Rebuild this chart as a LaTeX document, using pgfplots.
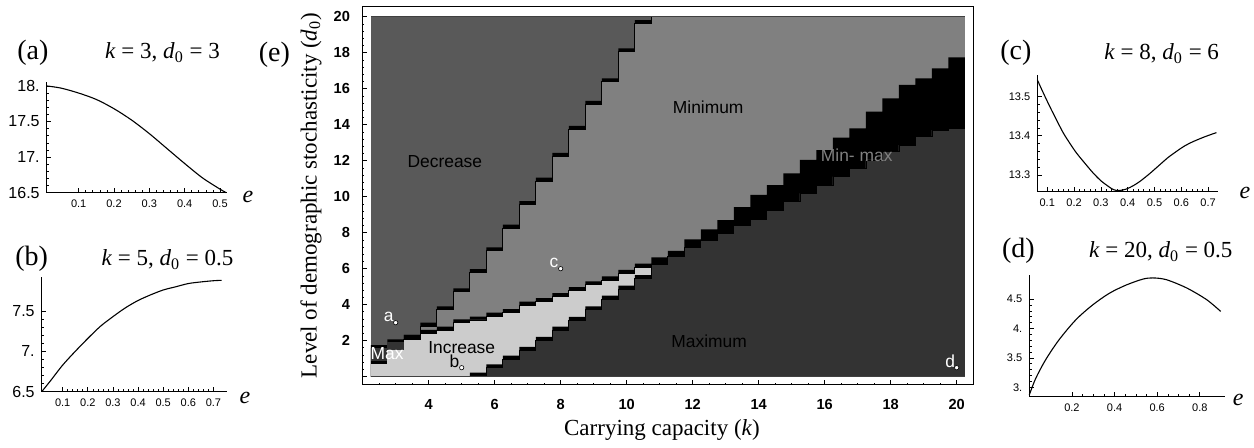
\documentclass[border=0pt]{standalone}
\usepackage{fontspec}
\setmainfont{Liberation Serif}
\setsansfont{Liberation Sans}
\usepackage{pgfplots}
\usepackage{pgfplotstable}
\pgfplotsset{compat=1.18}

\definecolor{decr}{gray}{0.35}
\definecolor{minim}{gray}{0.5}
\definecolor{maxim}{gray}{0.2}
\definecolor{incr}{gray}{0.8}

% Region map (e): one row per column of cells (left edge k, width 0.5).
% Each Lx is the top of a layer filled from d0 = 0; later layers paint over earlier ones.
% L1 black | L2 minimum | L3 black | L4 increase | L5 black | L6 maximum
\pgfplotstableread{
k     L1    L2    L3    L4    L5    L6
2.25  1.76  1.58  1.58  1.58  0     0
2.75  2.08  1.90  1.90  1.90  0     0
3.25  2.32  2.08  2.32  2.08  0     0
3.75  3.00  2.81  2.60  2.41  0     0
4.25  3.90  3.71  2.78  2.59  0     0
4.75  4.91  4.72  3.19  3.00  0     0
5.25  5.97  5.78  3.34  3.15  0.22  0.04
5.75  7.19  7.00  3.56  3.37  0.69  0.50
6.25  8.45  8.26  3.75  3.56  1.17  0.98
6.75  9.76  9.57  4.17  3.98  1.66  1.47
7.25  11.06 10.87 4.36  4.17  2.21  2.02
7.75  12.44 12.25 4.64  4.45  2.78  2.58
8.25  13.93 13.74 4.98  4.78  3.32  3.13
8.75  15.32 15.13 5.30  5.10  3.91  3.72
9.25  16.58 16.39 5.57  5.37  4.50  4.30
9.75  18.24 18.05 5.94  5.74  5.06  4.87
10.25 19.81 19.62 6.28  6.07  5.65  5.46
10.75 20    20    6.63  6.26  6.26  6.26
11.25 20    20    6.99  6.67  6.67  6.67
11.75 20    20    7.63  7.18  7.18  7.18
12.25 20    20    8.18  7.59  7.59  7.59
12.75 20    20    8.70  7.96  7.96  7.96
13.25 20    20    9.42  8.40  8.40  8.40
13.75 20    20    10.10 8.75  8.75  8.75
14.25 20    20    10.65 9.26  9.26  9.26
14.75 20    20    11.30 9.72  9.72  9.72
15.25 20    20    12.04 10.19 10.19 10.19
15.75 20    20    12.59 10.65 10.65 10.65
16.25 20    20    13.28 11.11 11.11 11.11
16.75 20    20    13.79 11.57 11.57 11.57
17.25 20    20    14.72 12.04 12.04 12.04
17.75 20    20    15.46 12.50 12.50 12.50
18.25 20    20    16.21 12.87 12.87 12.87
18.75 20    20    16.58 13.33 13.33 13.33
19.25 20    20    17.13 13.70 13.70 13.70
19.75 20    20    17.74 13.79 13.79 13.79
20.25 20    20    17.74 13.79 13.79 13.79
}\regions

% Profiles against e
\pgfplotstableread{
e     v
0.0094 18.00
0.05  17.97
0.10  17.90
0.15  17.81
0.20  17.68
0.25  17.52
0.30  17.33
0.35  17.12
0.40  16.91
0.45  16.71
0.50  16.55
0.518 16.50
}\curvea

\pgfplotstableread{
e     v
0.0163 6.50
0.05  6.63
0.10  6.83
0.15  7.00
0.20  7.16
0.25  7.31
0.30  7.43
0.35  7.54
0.40  7.63
0.45  7.70
0.50  7.76
0.55  7.80
0.60  7.84
0.65  7.86
0.70  7.875
0.733 7.88
}\curveb

\pgfplotstableread{
e     v
0.063 13.543
0.085 13.51
0.110 13.474
0.135 13.44
0.160 13.407
0.185 13.38
0.209 13.356
0.240 13.33
0.271 13.305
0.300 13.285
0.321 13.274
0.340 13.265
0.358 13.260
0.380 13.261
0.396 13.264
0.420 13.272
0.445 13.283
0.480 13.302
0.520 13.326
0.550 13.344
0.582 13.360
0.610 13.373
0.644 13.385
0.690 13.398
0.731 13.408
}\curvec

\pgfplotstableread{
e     v
0.000 2.87
0.030 3.15
0.077 3.47
0.140 3.81
0.219 4.15
0.297 4.40
0.376 4.60
0.455 4.74
0.533 4.84
0.580 4.86
0.643 4.83
0.738 4.69
0.832 4.49
0.898 4.29
}\curved

\pgfplotsset{
  panel/.style={
    scale only axis, anchor=south west,
    axis lines=left, axis line style={-, line width=0.45pt},
    tick align=inside, major tick length=2.2pt, minor tick length=1.1pt,
    tick style={line width=0.35pt, black},
    tick label style={font=\sffamily\fontsize{5.5}{6}\selectfont},
    clip=false,
  },
  curve/.style={black, line width=0.55pt, smooth},
  edge/.style={const plot, black, line width=0.45pt},
}

\newcommand{\regfont}{\sffamily\fontsize{8.7}{10}\selectfont}

\begin{document}
\begin{tikzpicture}
\useasboundingbox (0,0) rectangle (627pt,224pt);

% ---------- (e) region map ----------
\begin{axis}[
  at={(181pt,31.5pt)}, anchor=south west, scale only axis,
  width=305.5pt, height=189pt,
  xmin=1.979, xmax=20.494, ymin=-0.461, ymax=20.54,
  axis line style={line width=0.5pt},
  tick pos=left, tick align=inside,
  xtick={2,4,...,20}, ytick={0,2,...,20},
  xticklabels={,4,6,8,10,12,14,16,18,20},
  yticklabels={,2,4,6,8,10,12,14,16,18,20},
  minor x tick num=3, minor y tick num=4,
  major tick length=2.5pt, minor tick length=1.2pt,
  tick style={line width=0.4pt, black},
  tick label style={font=\sffamily\bfseries\fontsize{7.3}{8}\selectfont},
  xticklabel style={yshift=-3.5pt}, yticklabel style={xshift=-2.5pt},
]
\addplot[fill=decr, draw=none] coordinates {(2.25,0) (20.25,0) (20.25,20) (2.25,20)} -- cycle;
\addplot[const plot, fill=black, draw=none] table[x=k, y=L1] {\regions} \closedcycle;
\addplot[const plot, fill=minim, draw=none] table[x=k, y=L2] {\regions} \closedcycle;
\addplot[const plot, fill=black, draw=none] table[x=k, y=L3] {\regions} \closedcycle;
\addplot[const plot, fill=incr, draw=none] table[x=k, y=L4] {\regions} \closedcycle;
\addplot[const plot, fill=black, draw=none] table[x=k, y=L5] {\regions} \closedcycle;
\addplot[const plot, fill=maxim, draw=none] table[x=k, y=L6] {\regions} \closedcycle;
% thin edges along the region boundaries (risers of the staircases)
\addplot[edge] table[x=k, y=L2] {\regions};
\addplot[edge] table[x=k, y=L4] {\regions};
\addplot[edge] table[x=k, y=L6] {\regions};
% small "Max" pocket at low k
\addplot[fill=black, draw=none] coordinates {(2.25,0.69) (2.75,0.69) (2.75,0.87) (2.25,0.87)} -- cycle;
\addplot[fill=maxim, draw=none] coordinates {(2.25,0.87) (2.75,0.87) (2.75,1.58) (2.25,1.58)} -- cycle;
\addplot[fill=maxim, draw=none] coordinates {(2.75,1.50) (3.25,1.50) (3.25,1.90) (2.75,1.90)} -- cycle;
% edges of the sampled region
\addplot[draw=black!75, line width=0.4pt] coordinates {(2.25,20) (20.25,20)};
\addplot[draw=black!75, line width=0.4pt] coordinates {(2.25,0) (20.25,0)};
% the four parameter sets of panels (a)-(d)
\addplot[only marks, mark=*, mark size=1.1pt, mark options={fill=white, draw=black, line width=0.3pt}]
  coordinates {(3,3) (5,0.5) (8,6) (20,0.5)};

\node[font=\regfont] at (axis cs:4.49,11.94) {Decrease};
\node[font=\regfont] at (axis cs:12.47,14.97) {Minimum};
\node[font=\regfont, text=minim] at (axis cs:16.97,12.32) {Min- max};
\node[font=\regfont] at (axis cs:12.5,1.95) {Maximum};
\node[font=\regfont, inner sep=0pt] at (axis cs:5.0,1.62) {Increase};
\node[font=\regfont, text=white, inner sep=0pt] at (axis cs:2.74,1.26) {Max};
\node[font=\regfont, text=white, inner sep=0pt] at (axis cs:2.79,3.3) {a};
\node[font=\regfont, inner sep=0pt] at (axis cs:4.78,0.86) {b};
\node[font=\regfont, text=white, inner sep=0pt] at (axis cs:7.8,6.3) {c};
\node[font=\regfont, text=white, inner sep=0pt] at (axis cs:19.8,0.83) {d};
\end{axis}

\node[anchor=base, font=\fontsize{11.5}{13}\selectfont] at (331pt,6pt) {Carrying capacity (\textit{k})};
\node[anchor=base, rotate=90, font=\fontsize{11.5}{13}\selectfont] at (158.3pt,126.25pt)
  {Level of demographic stochasticity (\textit{d}\textsubscript{0})};
\node[anchor=base west, font=\fontsize{14}{16}\selectfont, inner sep=0pt] at (129.2pt,193.2pt) {(e)};

% ---------- (a) ----------
\begin{axis}[panel, at={(23.35pt,127.65pt)}, width=90pt, height=55.5pt,
  xmin=0.0094, xmax=0.519, ymin=16.5, ymax=18.06,
  xtick={0.1,0.2,0.3,0.4,0.5}, xticklabels={0.1,0.2,0.3,0.4,0.5},
  ytick={16.5,17,17.5,18}, yticklabels={16.5,17.,17.5,18.},
  yticklabel style={font=\sffamily\fontsize{8}{9}\selectfont},
  minor x tick num=4, minor y tick num=4]
\addplot[curve] table[x=e, y=v] {\curvea};
\end{axis}
\node[anchor=base west, font=\fontsize{14}{16}\selectfont, inner sep=0pt] at (8.5pt,194pt) {(a)};
\node[anchor=base, font=\fontsize{11.5}{13}\selectfont] at (81.25pt,194.5pt) {\textit{k} = 3, \textit{d}\textsubscript{0} = 3};
\node[font=\itshape\fontsize{12}{14}\selectfont] at (124pt,125.5pt) {e};

% ---------- (b) ----------
\begin{axis}[panel, at={(20.85pt,28.15pt)}, width=92.5pt, height=57.5pt,
  xmin=0.0163, xmax=0.753, ymin=6.5, ymax=7.925,
  xtick={0.1,0.2,0.3,0.4,0.5,0.6,0.7}, xticklabels={0.1,0.2,0.3,0.4,0.5,0.6,0.7},
  ytick={6.5,7,7.5}, yticklabels={6.5,7.,7.5},
  yticklabel style={font=\sffamily\fontsize{8}{9}\selectfont},
  minor x tick num=4, minor y tick num=4]
\addplot[curve] table[x=e, y=v] {\curveb};
\end{axis}
\node[anchor=base west, font=\fontsize{14}{16}\selectfont, inner sep=0pt] at (7.5pt,91pt) {(b)};
\node[anchor=base, font=\fontsize{11.5}{13}\selectfont] at (83.75pt,91pt) {\textit{k} = 5, \textit{d}\textsubscript{0} = 0.5};
\node[font=\itshape\fontsize{12}{14}\selectfont] at (122.5pt,24.85pt) {e};

% ---------- (c) ----------
\begin{axis}[panel, at={(518.65pt,128.15pt)}, width=90.5pt, height=58.3pt,
  xmin=0.063, xmax=0.738, ymin=13.257, ymax=13.555,
  xtick={0.1,0.2,0.3,0.4,0.5,0.6,0.7}, xticklabels={0.1,0.2,0.3,0.4,0.5,0.6,0.7},
  ytick={13.3,13.4,13.5}, yticklabels={13.3,13.4,13.5},
  minor x tick num=4, minor y tick num=4]
\addplot[curve] table[x=e, y=v] {\curvec};
\end{axis}
\node[anchor=base west, font=\fontsize{14}{16}\selectfont, inner sep=0pt] at (500pt,194pt) {(c)};
\node[anchor=base, font=\fontsize{11.5}{13}\selectfont] at (580.85pt,194pt) {\textit{k} = 8, \textit{d}\textsubscript{0} = 6};
\node[font=\itshape\fontsize{12}{14}\selectfont] at (622.5pt,127.65pt) {e};

% ---------- (d) ----------
\begin{axis}[panel, at={(514.65pt,25.65pt)}, width=97.85pt, height=60.85pt,
  xmin=0, xmax=0.918, ymin=2.84, ymax=4.91,
  xtick={0.2,0.4,0.6,0.8}, xticklabels={0.2,0.4,0.6,0.8},
  ytick={3,3.5,4,4.5}, yticklabels={3.,3.5,4.,4.5},
  minor x tick num=3, minor y tick num=4]
\addplot[curve] table[x=e, y=v] {\curved};
\end{axis}
\node[anchor=base west, font=\fontsize{14}{16}\selectfont, inner sep=0pt] at (500.85pt,95pt) {(d)};
\node[anchor=base, font=\fontsize{11.5}{13}\selectfont] at (580.4pt,95pt) {\textit{k} = 20, \textit{d}\textsubscript{0} = 0.5};
\node[font=\itshape\fontsize{12}{14}\selectfont] at (619.15pt,24pt) {e};

\end{tikzpicture}
\end{document}
